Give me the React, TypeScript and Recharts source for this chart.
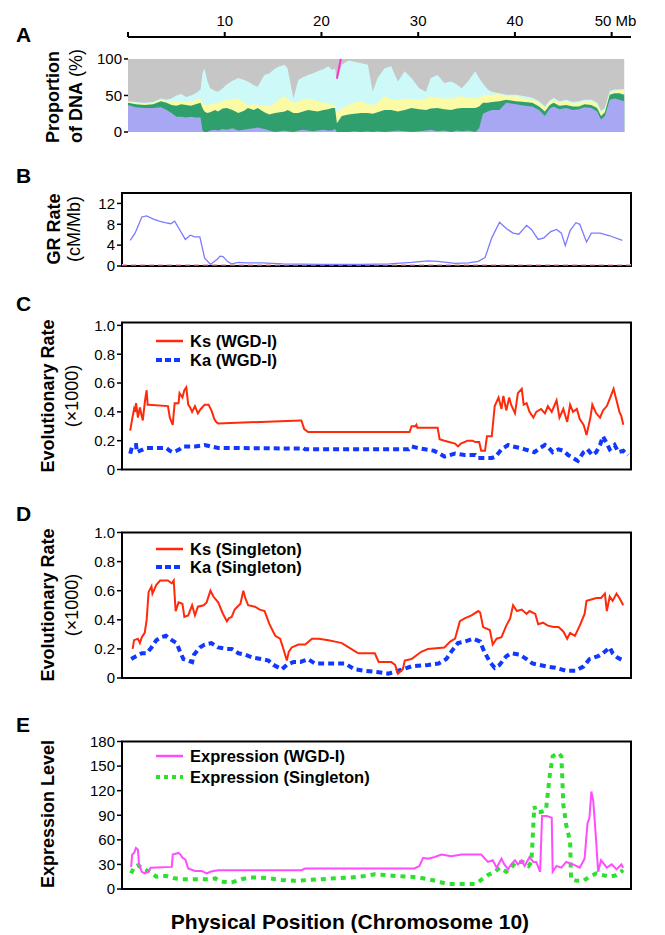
import React from "react";
import {
  ComposedChart,
  Area,
  Line,
  XAxis,
  YAxis,
  ReferenceArea,
  ReferenceLine,
} from "recharts";

const FONT = '"Liberation Sans", Arial, Helvetica, sans-serif';
const W = 665;
const X_DOMAIN: [number, number] = [-0.65, 52];

// ---- Panel A: proportion of DNA (cumulative layer tops, %) ----
const POS_A = [
  0, 0.8, 1.7, 2.6, 3.4, 4.0, 4.5, 5.0, 5.5, 6.0, 6.5, 7.0, 7.5, 7.7, 7.9, 8.2, 8.5, 9.0, 9.3, 9.8,
  10.2, 10.8, 11.4, 12.0, 12.4, 13.0, 13.4, 14.1, 14.6, 15.2, 15.7, 16.2, 16.5, 17.1, 17.6, 18.1,
  18.6, 19.1, 19.6, 20.2, 20.7, 21.1, 21.4, 21.6, 22.1, 22.8, 23.4, 24.1, 24.8, 25.3, 25.8, 26.5,
  27.2, 27.9, 28.6, 29.3, 30.1, 30.8, 31.3, 32.0, 32.7, 33.4, 34.0, 34.5, 35.2, 35.9, 36.3, 36.7,
  37.2, 37.6, 38.4, 39.1, 40.1, 41.0, 41.8, 42.5, 43.1, 43.6, 44.0, 44.6, 45.3, 46.0, 46.6, 47.2,
  47.9, 48.5, 48.9, 49.3, 49.8, 50.3, 50.8, 51.3,
];
const PURPLE_A = [
  37, 34, 33, 33, 34, 30, 26, 21, 21, 20, 21, 20, 20, 2, 0, 0, 2, 3, 2, 4,
  3, 5, 2, 3, 4, 5, 6, 4, 2, 0, 1, 2, 1, 0, 2, 3,
  2, 1, 2, 3, 2, 2, 4, 0, 0, 0, 1, 0, 1, 0, 1, 0,
  1, 2, 1, 0, 1, 2, 3, 1, 2, 0, 2, 1, 2, 0, 5, 25,
  28, 30, 30, 40, 38, 36, 35, 30, 22, 32, 35, 31, 33, 30, 31, 34,
  33, 28, 17, 22, 44, 46, 44, 42,
];
const GREEN_A = [
  40, 38, 37, 38, 42, 40, 37, 36, 38, 37, 36, 38, 40, 33, 28, 26, 27, 30, 28, 32,
  33, 30, 26, 29, 33, 30, 33, 27, 24, 26, 27, 28, 30, 26, 26, 28,
  30, 29, 28, 30, 31, 33, 33, 12, 22, 24, 25, 26, 26, 25, 27, 30,
  30, 28, 30, 33, 31, 30, 32, 33, 31, 30, 32, 33, 33, 33, 35, 40,
  40, 41, 42, 44, 42, 41, 40, 35, 28, 37, 40, 36, 37, 35, 35, 38,
  37, 33, 22, 27, 51, 53, 53, 51,
];
const YELLOW_A = [
  41, 40, 39, 40, 44, 42, 42, 41, 42, 41, 42, 43, 46, 40, 38, 36, 38, 40, 40, 42,
  44, 45, 46, 40, 37, 38, 37, 36, 35, 40, 46, 49, 45, 40, 42, 44,
  46, 44, 42, 40, 39, 37, 38, 26, 33, 37, 40, 42, 38, 37, 40, 49,
  45, 44, 46, 45, 44, 46, 49, 47, 46, 46, 48, 49, 47, 46, 47, 50,
  51, 51, 52, 49, 49, 46, 44, 40, 33, 41, 44, 40, 42, 39, 40, 42,
  42, 38, 27, 31, 53, 56, 57, 57,
];
const CYAN_A = [
  42, 41, 40, 41, 46, 44, 46, 50, 52, 48, 50, 53, 58, 80, 87, 70, 60, 56, 55, 60,
  65, 70, 74, 71, 69, 64, 62, 78, 80, 87, 90, 92, 87, 46, 71, 75,
  78, 80, 83, 86, 90, 85, 87, 70, 92, 98, 96, 94, 92, 55, 74, 87,
  90, 69, 83, 74, 60, 55, 74, 78, 67, 69, 65, 60, 70, 83, 74, 66,
  58, 55, 53, 51, 51, 49, 47, 42, 35, 43, 47, 42, 44, 41, 42, 44,
  44, 40, 29, 33, 56, 58, 58, 59,
];
const MAGENTA_MARK: [number, number][] = [[21.6, 73], [22.0, 100]];

// ---- Panel B: genetic recombination rate (cM/Mb) ----
const GR_RATE: [number, number][] = [
  [0.2, 4.9], [0.7, 6.3], [1.4, 9.4], [1.9, 9.6], [2.6, 9.0], [3.2, 8.6], [3.8, 8.3], [4.4, 8.1],
  [4.8, 8.6], [5.3, 7.0], [5.9, 5.1], [6.4, 5.9], [6.9, 5.6], [7.4, 5.6], [7.9, 1.5], [8.5, 0.3],
  [9.2, 1.3], [9.5, 1.9], [9.8, 1.8], [10.3, 0.8], [10.7, 0.4], [11.4, 0.7], [12.1, 0.6], [13.8, 0.6],
  [16.0, 0.4], [20.0, 0.3], [24.0, 0.3], [27.0, 0.4], [29.3, 0.7], [31.0, 1.0], [32.0, 0.9],
  [33.8, 0.5], [35.2, 0.6], [36.2, 0.9], [36.9, 1.6], [37.6, 5.4], [38.4, 8.4], [39.1, 7.2],
  [39.8, 6.3], [40.4, 6.1], [41.2, 7.8], [41.7, 7.0], [42.4, 5.1], [43.0, 5.4], [43.7, 6.6],
  [44.3, 7.0], [44.8, 6.3], [45.2, 3.9], [45.7, 6.8], [46.3, 8.3], [46.7, 8.0], [47.4, 4.6],
  [47.9, 6.3], [48.8, 6.3], [49.8, 5.8], [51.1, 4.9],
];
const GR_FLOOR = 0.25;

// ---- Panel C: WGD-I evolutionary rates (x1000) ----
const KS_WGD: [number, number][] = [
  [0.2, 0.27], [0.4, 0.35], [0.6, 0.42], [0.7, 0.4], [0.8, 0.46], [1.0, 0.36], [1.2, 0.43],
  [1.5, 0.34], [1.7, 0.46], [1.8, 0.51], [1.9, 0.55], [2.0, 0.45], [2.1, 0.45], [4.1, 0.44],
  [4.3, 0.36], [4.6, 0.31], [4.7, 0.39], [4.8, 0.46], [5.2, 0.46], [5.3, 0.53], [5.6, 0.5],
  [5.8, 0.55], [6.0, 0.57], [6.2, 0.45], [6.4, 0.43], [6.6, 0.4], [6.9, 0.44], [7.2, 0.39],
  [7.5, 0.42], [7.9, 0.45], [8.3, 0.45], [8.6, 0.41], [8.9, 0.35], [9.1, 0.33], [9.3, 0.32],
  [17.8, 0.34], [17.9, 0.34], [18.2, 0.28], [18.6, 0.26], [29.1, 0.26], [29.3, 0.3], [29.7, 0.3],
  [29.8, 0.31], [29.9, 0.29], [32.0, 0.29], [32.2, 0.21], [32.7, 0.2], [33.8, 0.18], [34.1, 0.16],
  [34.4, 0.18], [35.1, 0.2], [35.6, 0.2], [35.9, 0.19], [36.3, 0.19], [36.5, 0.13], [36.9, 0.13],
  [37.1, 0.23], [37.6, 0.23], [37.9, 0.44], [38.3, 0.5], [38.6, 0.42], [38.8, 0.51], [39.1, 0.41],
  [39.4, 0.5], [39.6, 0.45], [40.0, 0.39], [40.3, 0.53], [40.7, 0.56], [40.9, 0.45], [41.2, 0.46],
  [41.5, 0.4], [41.9, 0.36], [42.2, 0.4], [42.7, 0.42], [43.1, 0.39], [43.4, 0.44], [43.8, 0.4],
  [44.3, 0.48], [44.6, 0.36], [45.0, 0.42], [45.4, 0.33], [45.7, 0.45], [46.0, 0.4], [46.4, 0.42],
  [46.7, 0.35], [47.1, 0.31], [47.4, 0.24], [47.8, 0.36], [48.0, 0.45], [48.4, 0.39], [48.8, 0.36],
  [49.1, 0.41], [49.5, 0.44], [49.8, 0.49], [50.2, 0.56], [50.5, 0.48], [50.8, 0.4], [51.0, 0.37],
  [51.2, 0.31],
];
const KA_WGD: [number, number][] = [
  [0.2, 0.11], [0.4, 0.16], [0.6, 0.17], [0.8, 0.17], [0.9, 0.12], [1.2, 0.13], [1.9, 0.15],
  [3.9, 0.15], [4.3, 0.13], [4.6, 0.12], [5.0, 0.13], [5.3, 0.14], [5.7, 0.16], [6.9, 0.16],
  [7.9, 0.17], [8.5, 0.16], [9.3, 0.15], [17.9, 0.145], [18.1, 0.15], [18.3, 0.14], [29.0, 0.14],
  [29.3, 0.16], [29.9, 0.15], [30.7, 0.14], [31.6, 0.13], [32.2, 0.11], [32.7, 0.09], [33.8, 0.11],
  [34.8, 0.1], [35.9, 0.1], [36.2, 0.08], [37.6, 0.08], [38.0, 0.09], [38.6, 0.14], [39.3, 0.17],
  [39.8, 0.16], [40.5, 0.15], [41.0, 0.14], [41.5, 0.13], [42.0, 0.12], [42.6, 0.15], [43.1, 0.17],
  [43.5, 0.15], [43.9, 0.12], [44.5, 0.14], [45.0, 0.13], [45.5, 0.1], [46.0, 0.08], [46.5, 0.06],
  [47.1, 0.12], [47.5, 0.14], [48.0, 0.1], [48.4, 0.12], [48.8, 0.17], [49.1, 0.23], [49.5, 0.18],
  [49.8, 0.14], [50.3, 0.17], [50.7, 0.12], [51.2, 0.13], [51.7, 0.1],
];

// ---- Panel D: singleton evolutionary rates (x1000) ----
const KS_SINGLE: [number, number][] = [
  [0.45, 0.2], [0.6, 0.26], [1.0, 0.27], [1.2, 0.24], [1.4, 0.28], [1.7, 0.31], [1.9, 0.4],
  [2.1, 0.59], [2.4, 0.63], [2.5, 0.58], [2.9, 0.64], [3.3, 0.67], [3.8, 0.67], [4.1, 0.67],
  [4.5, 0.65], [4.7, 0.67], [4.9, 0.46], [5.2, 0.52], [5.6, 0.51], [5.8, 0.42], [6.2, 0.43],
  [6.6, 0.5], [6.9, 0.43], [7.2, 0.49], [7.8, 0.5], [8.1, 0.52], [8.5, 0.6], [8.8, 0.56],
  [9.3, 0.52], [9.8, 0.44], [10.2, 0.39], [10.4, 0.41], [10.7, 0.42], [11.0, 0.47], [11.6, 0.51],
  [11.9, 0.6], [12.1, 0.55], [12.4, 0.5], [13.1, 0.49], [13.6, 0.47], [14.1, 0.46], [14.6, 0.37],
  [15.2, 0.29], [15.7, 0.27], [16.0, 0.21], [16.4, 0.12], [16.6, 0.18], [16.9, 0.21], [17.6, 0.23],
  [18.3, 0.23], [19.0, 0.27], [19.7, 0.27], [20.7, 0.26], [21.4, 0.25], [22.1, 0.24], [22.8, 0.21],
  [23.8, 0.17], [25.5, 0.17], [25.9, 0.11], [27.2, 0.11], [27.6, 0.09], [27.9, 0.03], [28.4, 0.06],
  [28.6, 0.12], [29.3, 0.13], [30.3, 0.18], [31.0, 0.2], [32.7, 0.21], [33.3, 0.25], [33.8, 0.27],
  [34.3, 0.39], [34.8, 0.41], [35.5, 0.43], [36.2, 0.46], [36.4, 0.45], [36.7, 0.35], [37.4, 0.33],
  [37.7, 0.23], [38.1, 0.27], [38.6, 0.28], [39.1, 0.36], [39.5, 0.41], [39.8, 0.5], [40.2, 0.46],
  [40.7, 0.47], [41.2, 0.44], [41.5, 0.46], [42.1, 0.44], [42.4, 0.37], [42.9, 0.38], [43.4, 0.36],
  [44.0, 0.35], [44.5, 0.35], [45.0, 0.32], [45.4, 0.27], [45.7, 0.31], [46.2, 0.29], [46.7, 0.36],
  [47.2, 0.44], [47.4, 0.53], [47.9, 0.54], [48.4, 0.55], [48.9, 0.55], [49.3, 0.58], [49.5, 0.46],
  [49.8, 0.56], [50.1, 0.53], [50.5, 0.58], [50.8, 0.55], [51.2, 0.5],
];
const KA_SINGLE: [number, number][] = [
  [0.3, 0.13], [0.8, 0.15], [1.4, 0.17], [1.9, 0.17], [2.4, 0.21], [2.9, 0.26], [3.4, 0.28],
  [3.9, 0.29], [4.5, 0.26], [5.0, 0.24], [5.3, 0.19], [5.7, 0.13], [6.2, 0.12], [6.6, 0.11],
  [6.8, 0.16], [7.4, 0.21], [7.9, 0.23], [8.6, 0.24], [9.3, 0.21], [10.2, 0.2], [10.7, 0.2],
  [11.4, 0.17], [12.1, 0.16], [12.9, 0.14], [13.8, 0.13], [14.5, 0.12], [15.0, 0.09], [15.9, 0.06],
  [16.4, 0.09], [17.1, 0.11], [17.8, 0.11], [18.6, 0.13], [19.3, 0.1], [22.4, 0.1], [23.4, 0.06],
  [24.4, 0.05], [25.9, 0.04], [26.9, 0.03], [27.9, 0.05], [28.4, 0.06], [29.3, 0.08], [31.0, 0.09],
  [32.1, 0.1], [32.9, 0.13], [33.4, 0.18], [34.1, 0.24], [34.8, 0.25], [35.7, 0.27], [36.4, 0.25],
  [36.7, 0.2], [37.0, 0.16], [37.4, 0.11], [37.9, 0.07], [38.4, 0.09], [39.1, 0.15], [39.6, 0.17],
  [40.5, 0.16], [41.2, 0.13], [41.8, 0.1], [42.5, 0.09], [43.2, 0.08], [44.2, 0.07], [45.3, 0.05],
  [46.3, 0.05], [47.1, 0.08], [47.7, 0.13], [48.6, 0.15], [49.1, 0.17], [49.8, 0.21], [50.1, 0.17],
  [50.6, 0.14], [51.2, 0.12],
];

// ---- Panel E: expression level ----
const EXPR_WGD: [number, number][] = [
  [0.3, 27], [0.4, 42], [0.6, 44], [0.8, 50], [1.0, 48], [1.1, 31], [1.4, 21], [1.7, 19], [2.1, 21],
  [2.3, 26], [4.5, 27], [4.6, 42], [5.2, 44], [5.4, 42], [5.6, 38], [5.9, 36], [6.2, 25], [6.9, 22],
  [7.6, 22], [8.1, 19], [8.5, 21], [8.8, 22], [9.3, 23], [17.9, 23], [18.3, 25], [29.6, 25],
  [30.1, 28], [30.5, 38], [31.0, 37], [31.7, 39], [32.4, 42], [33.4, 40], [34.5, 42], [35.2, 42],
  [36.5, 42], [37.2, 33], [37.7, 35], [38.1, 26], [38.6, 37], [38.9, 30], [39.3, 24], [39.6, 30],
  [40.0, 35], [40.3, 30], [40.7, 35], [41.0, 28], [41.5, 39], [41.9, 33], [42.2, 33], [42.6, 21],
  [42.8, 89], [43.3, 89], [43.8, 87], [43.9, 21], [44.3, 28], [44.8, 26], [45.3, 33], [46.0, 30],
  [46.7, 26], [47.2, 37], [47.5, 80], [47.7, 87], [47.9, 119], [48.1, 107], [48.4, 58], [48.6, 21],
  [48.9, 35], [49.5, 26], [50.0, 30], [50.5, 24], [51.0, 30], [51.2, 26],
];
const EXPR_SINGLE: [number, number][] = [
  [0.3, 19], [0.6, 27], [1.0, 29], [1.5, 25], [2.2, 21], [2.9, 15], [3.9, 16], [4.8, 13], [5.5, 12],
  [8.3, 12], [9.0, 13], [9.5, 9], [10.7, 8], [11.7, 12], [12.6, 14], [13.6, 14], [14.6, 13],
  [15.9, 11], [17.2, 10], [18.6, 11], [20.0, 12], [21.4, 13], [23.1, 14], [24.5, 16], [25.5, 18],
  [26.6, 17], [27.6, 16], [29.0, 15], [30.1, 14], [31.4, 11], [32.4, 8], [33.1, 6], [35.9, 6],
  [36.5, 11], [37.2, 17], [37.9, 21], [38.4, 26], [39.1, 21], [39.6, 26], [40.1, 33], [40.8, 33],
  [41.4, 28], [41.7, 33], [42.0, 101], [42.2, 94], [42.7, 94], [43.2, 96], [43.6, 139], [43.9, 162],
  [44.5, 166], [44.8, 162], [45.0, 103], [45.3, 78], [45.7, 58], [45.8, 12], [46.4, 10], [47.1, 10],
  [47.7, 15], [48.4, 19], [49.1, 17], [49.8, 15], [50.5, 17], [51.2, 23],
];

const TOP_TICKS = [0, 10, 20, 30, 40, 50];

const toRows = (pts: [number, number][]) => pts.map(([x, v]) => ({ x, v }));

const tableA = POS_A.map((x, i) => ({
  x,
  total: 100,
  cyan: CYAN_A[i],
  yellow: YELLOW_A[i],
  green: GREEN_A[i],
  purple: PURPLE_A[i],
}));

const tickStyle = { fill: "#000", fontSize: 15, fontFamily: FONT };
const fmtRate = (v: number) => (v === 0 ? "0" : v.toFixed(1));

const TopTick = (props: any) => {
  const { x, y, payload } = props;
  if (payload.value === 0) return null;
  if (payload.value === 50) {
    return (
      <text x={x - 17} y={y} dy={-4} textAnchor="start" {...tickStyle}>
        50 Mb
      </text>
    );
  }
  return (
    <text x={x} y={y} dy={-4} textAnchor="middle" {...tickStyle}>
      {payload.value}
    </text>
  );
};

const abs = (top: number): React.CSSProperties => ({
  position: "absolute",
  left: 0,
  top,
});

const boxStroke = { stroke: "#000", strokeWidth: 2, fill: "none", fillOpacity: 0 };

const PanelA = () => (
  <div style={abs(0)}>
    <ComposedChart
      width={W}
      height={150}
      data={tableA}
      margin={{ top: 7, right: 34, bottom: 18, left: 88 }}
    >
      <XAxis
        dataKey="x"
        type="number"
        orientation="top"
        domain={[0, 52]}
        ticks={TOP_TICKS}
        interval={0}
        height={30}
        tickSize={5}
        axisLine={{ stroke: "#000", strokeWidth: 2 }}
        tickLine={{ stroke: "#000", strokeWidth: 2 }}
        tick={<TopTick />}
        allowDataOverflow
      />
      <YAxis
        type="number"
        domain={[0, 130]}
        ticks={[0, 50, 100]}
        interval={0}
        width={40}
        axisLine={false}
        tickSize={4}
        tickLine={{ stroke: "#000", strokeWidth: 1.5 }}
        tick={tickStyle}
        allowDataOverflow
      />
      <Area dataKey="total" type="linear" stroke="none" fill="#c6c6c6" fillOpacity={1} isAnimationActive={false} />
      <Area dataKey="cyan" type="linear" stroke="none" fill="#cdf9f9" fillOpacity={1} isAnimationActive={false} />
      <Area dataKey="yellow" type="linear" stroke="none" fill="#fbfba6" fillOpacity={1} isAnimationActive={false} />
      <Area dataKey="green" type="linear" stroke="none" fill="#2fa06d" fillOpacity={1} isAnimationActive={false} />
      <Area dataKey="purple" type="linear" stroke="none" fill="#a7a7f3" fillOpacity={1} isAnimationActive={false} />
      <Line
        data={toRows(MAGENTA_MARK)}
        dataKey="v"
        type="linear"
        stroke="#ff33cc"
        strokeWidth={2}
        dot={false}
        isAnimationActive={false}
      />
    </ComposedChart>
  </div>
);

const PanelB = () => (
  <div style={abs(150)}>
    <ComposedChart width={W} height={130} margin={{ top: 43, right: 34, bottom: 14, left: 82 }}>
      <XAxis dataKey="x" type="number" domain={X_DOMAIN} hide height={0} allowDataOverflow />
      <YAxis
        type="number"
        domain={[0, 14]}
        ticks={[0, 4, 8, 12]}
        interval={0}
        width={40}
        axisLine={false}
        tickSize={5}
        tickLine={{ stroke: "#000", strokeWidth: 1.5 }}
        tick={tickStyle}
        allowDataOverflow
      />
      <ReferenceLine y={GR_FLOOR} stroke="#f4b4c4" strokeWidth={1.6} strokeDasharray="5 4" />
      <Line
        data={toRows(GR_RATE)}
        dataKey="v"
        type="linear"
        stroke="#7b7bff"
        strokeWidth={1.3}
        dot={false}
        isAnimationActive={false}
      />
      <ReferenceArea x1={X_DOMAIN[0]} x2={X_DOMAIN[1]} y1={0} y2={14} {...boxStroke} />
    </ComposedChart>
  </div>
);

const RatePanel = ({
  top,
  marginTop,
  marginBottom,
  yMax,
  ks,
  ka,
}: {
  top: number;
  marginTop: number;
  marginBottom: number;
  yMax: number;
  ks: [number, number][];
  ka: [number, number][];
}) => (
  <div style={abs(top)}>
    <ComposedChart
      width={W}
      height={200}
      margin={{ top: marginTop, right: 34, bottom: marginBottom, left: 82 }}
    >
      <XAxis dataKey="x" type="number" domain={X_DOMAIN} hide height={0} allowDataOverflow />
      <YAxis
        type="number"
        domain={[0, yMax]}
        ticks={[0, 0.2, 0.4, 0.6, 0.8, 1.0]}
        interval={0}
        tickFormatter={fmtRate}
        width={40}
        axisLine={false}
        tickSize={5}
        tickLine={{ stroke: "#000", strokeWidth: 1.5 }}
        tick={tickStyle}
        allowDataOverflow
      />
      <Line
        data={toRows(ka)}
        dataKey="v"
        type="linear"
        stroke="#1238ff"
        strokeWidth={4}
        strokeDasharray="6 4"
        dot={false}
        isAnimationActive={false}
      />
      <Line
        data={toRows(ks)}
        dataKey="v"
        type="linear"
        stroke="#ff2a0a"
        strokeWidth={2}
        dot={false}
        isAnimationActive={false}
      />
      <ReferenceArea x1={X_DOMAIN[0]} x2={X_DOMAIN[1]} y1={0} y2={yMax} {...boxStroke} />
    </ComposedChart>
  </div>
);

const PanelE = () => (
  <div style={abs(700)}>
    <ComposedChart width={W} height={200} margin={{ top: 41.5, right: 34, bottom: 11, left: 82 }}>
      <XAxis dataKey="x" type="number" domain={X_DOMAIN} hide height={0} allowDataOverflow />
      <YAxis
        type="number"
        domain={[0, 180]}
        ticks={[0, 30, 60, 90, 120, 150, 180]}
        interval={0}
        width={40}
        axisLine={false}
        tickSize={5}
        tickLine={{ stroke: "#000", strokeWidth: 1.5 }}
        tick={tickStyle}
        allowDataOverflow
      />
      <Line
        data={toRows(EXPR_SINGLE)}
        dataKey="v"
        type="linear"
        stroke="#2ee02e"
        strokeWidth={4}
        strokeDasharray="5 5"
        dot={false}
        isAnimationActive={false}
      />
      <Line
        data={toRows(EXPR_WGD)}
        dataKey="v"
        type="linear"
        stroke="#ff4cff"
        strokeWidth={2}
        dot={false}
        isAnimationActive={false}
      />
      <ReferenceArea x1={X_DOMAIN[0]} x2={X_DOMAIN[1]} y1={0} y2={180} {...boxStroke} />
    </ComposedChart>
  </div>
);

// rotated axis title helper
const VTitle = ({ x, y, anchor = "middle", children }: any) => (
  <text
    transform={`translate(${x},${y}) rotate(-90)`}
    textAnchor={anchor}
    fontFamily={FONT}
    fontSize={18}
    fill="#000"
  >
    {children}
  </text>
);

const LegendKey = ({ y, label, color, width, dash }: any) => (
  <g>
    <line x1={156} x2={183} y1={y} y2={y} stroke={color} strokeWidth={width} strokeDasharray={dash} />
    <text x={190} y={y + 6} fontFamily={FONT} fontSize={16.5} fontWeight="bold" fill="#000">
      {label}
    </text>
  </g>
);

const Overlay = () => (
  <svg
    width={W}
    height={935}
    style={{ position: "absolute", left: 0, top: 0, pointerEvents: "none" }}
  >
    {[
      ["A", 42],
      ["B", 183],
      ["C", 311],
      ["D", 521],
      ["E", 732],
    ].map(([t, y]) => (
      <text key={t as string} x={16} y={y as number} fontFamily={FONT} fontSize={21} fontWeight="bold">
        {t}
      </text>
    ))}

    <VTitle x={59} y={143} anchor="start">
      <tspan fontWeight="bold">Proportion</tspan>
    </VTitle>
    <VTitle x={82} y={143} anchor="start">
      <tspan fontWeight="bold">of DNA</tspan>
      <tspan> (%)</tspan>
    </VTitle>

    <VTitle x={60} y={229}>
      <tspan fontWeight="bold">GR Rate</tspan>
    </VTitle>
    <VTitle x={80} y={229}>(cM/Mb)</VTitle>

    <VTitle x={54} y={396}>
      <tspan fontWeight="bold">Evolutionary Rate</tspan>
    </VTitle>
    <VTitle x={78} y={396}>(×1000)</VTitle>

    <VTitle x={54} y={605}>
      <tspan fontWeight="bold">Evolutionary Rate</tspan>
    </VTitle>
    <VTitle x={78} y={605}>(×1000)</VTitle>

    <VTitle x={54} y={814}>
      <tspan fontWeight="bold">Expression Level</tspan>
    </VTitle>

    <LegendKey y={341} label="Ks (WGD-I)" color="#ff2a0a" width={2.5} />
    <LegendKey y={360} label="Ka (WGD-I)" color="#1238ff" width={4} dash="6 3" />
    <LegendKey y={549} label="Ks (Singleton)" color="#ff2a0a" width={2.5} />
    <LegendKey y={567} label="Ka (Singleton)" color="#1238ff" width={4} dash="6 3" />
    <LegendKey y={756} label="Expression (WGD-I)" color="#ff4cff" width={2.5} />
    <LegendKey y={777} label="Expression (Singleton)" color="#2ee02e" width={4} dash="4 4" />

    <text x={350} y={929} textAnchor="middle" fontFamily={FONT} fontSize={21} fontWeight="bold">
      Physical Position (Chromosome 10)
    </text>
  </svg>
);

export default function App() {
  return (
    <div
      style={{
        position: "fixed",
        left: 0,
        top: 0,
        width: W,
        height: 935,
        background: "#fff",
        fontFamily: FONT,
      }}
    >
      <PanelA />
      <PanelB />
      <RatePanel top={280} marginTop={42.5} marginBottom={10.5} yMax={1.02} ks={KS_WGD} ka={KA_WGD} />
      <RatePanel top={490} marginTop={42.5} marginBottom={12} yMax={1.0} ks={KS_SINGLE} ka={KA_SINGLE} />
      <PanelE />
      <Overlay />
    </div>
  );
}
